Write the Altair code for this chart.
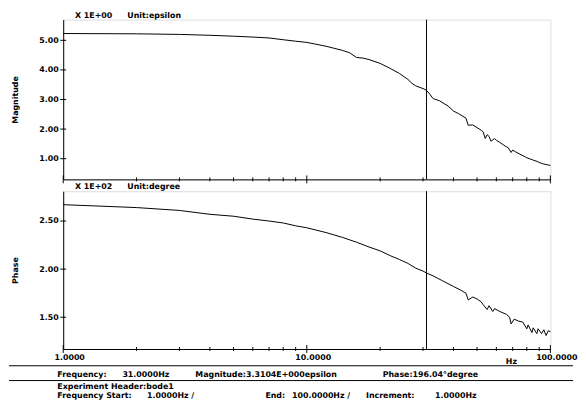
import altair as alt
import pandas as pd

# ---------------- data ----------------
mag_freq = [1, 2, 3, 4, 5, 6, 7, 8, 9, 10, 12, 14, 15, 16, 17, 18, 20, 22, 24, 26, 27, 28, 30, 31,
            32, 33, 35, 38, 40, 42, 45, 46, 48, 50, 52, 53, 54, 55, 56, 57, 59, 60, 62, 64, 66, 67,
            69, 70, 72, 75, 78, 80, 82, 85, 88, 90, 93, 96, 98, 100]
mag_vals = [5.23, 5.22, 5.20, 5.17, 5.14, 5.11, 5.08, 5.02, 4.97, 4.93, 4.80, 4.66, 4.58, 4.42, 4.40,
            4.35, 4.22, 4.05, 3.88, 3.68, 3.55, 3.46, 3.37, 3.31, 3.18, 3.03, 2.96, 2.78, 2.61, 2.52,
            2.37, 2.13, 2.14, 2.05, 1.96, 1.90, 1.68, 1.81, 1.75, 1.59, 1.68, 1.62, 1.55, 1.47, 1.40,
            1.38, 1.21, 1.29, 1.23, 1.15, 1.08, 1.03, 1.00, 0.95, 0.91, 0.87, 0.83, 0.80, 0.79, 0.77]

phase_freq = [1, 2, 3, 4, 5, 6, 7, 8, 9, 10, 12, 14, 16, 18, 20, 22, 24, 26, 28, 30, 31, 33, 36, 40,
              43, 45, 46, 48, 50, 52, 53, 55, 56, 58, 59, 62, 66, 68, 69, 71, 74, 77, 80, 81, 84, 85,
              88, 89, 92, 94, 96, 98, 100]
phase_vals = [2.67, 2.64, 2.61, 2.57, 2.55, 2.52, 2.50, 2.48, 2.45, 2.43, 2.38, 2.33, 2.28, 2.23, 2.19,
              2.14, 2.10, 2.06, 2.01, 1.98, 1.96, 1.93, 1.88, 1.82, 1.78, 1.75, 1.68, 1.71, 1.69, 1.66,
              1.63, 1.58, 1.62, 1.56, 1.59, 1.56, 1.53, 1.50, 1.43, 1.48, 1.46, 1.45, 1.38, 1.42, 1.34,
              1.39, 1.33, 1.38, 1.33, 1.37, 1.31, 1.36, 1.35]

cursor_freq = [31]
x_minor_ticks = [2, 3, 4, 5, 6, 7, 8, 9, 20, 30, 40, 50, 60, 70, 80, 90]
x_major_ticks = [1, 10, 100]
x_label_values = [1, 10, 100]
mag_ticks = [1, 2, 3, 4, 5]
phase_ticks = [1.5, 2.0, 2.5]

top_header = ["X 1E+00", "Unit:epsilon"]
bottom_header = ["X 1E+02", "Unit:degree"]
readout = ["Frequency:", "31.0000Hz", "Magnitude:3.3104E+000epsilon", "Phase:196.04°degree"]
exp_header = ["Experiment Header:bode1"]
freq_line = ["Frequency Start:", "1.0000Hz /", "End:", "100.0000Hz /", "Increment:", "1.0000Hz"]

# ---------------- layout / style ----------------
W = 494
H1 = 162
H2 = 160
FONT = "DejaVu Sans"
FS = 8
XSCALE = alt.Scale(type="log", domain=[1, 100], nice=False)


def txt(s, x, y, align="left"):
    return alt.Chart(pd.DataFrame({"t": [s]})).mark_text(
        align=align, baseline="middle", font=FONT, fontSize=FS, fontWeight="bold", color="black"
    ).encode(text="t:N", x=alt.value(x), y=alt.value(y))


def hline(x1, x2, y):
    return alt.Chart(pd.DataFrame({"a": [0]})).mark_rule(color="black", strokeWidth=1).encode(
        x=alt.value(x1), x2=alt.value(x2), y=alt.value(y))


def panel(freq, vals, ydom, yticks, H, ytitle, header, bottom):
    df = pd.DataFrame({"f": freq, "v": vals})
    yscale = alt.Scale(domain=ydom, nice=False, zero=False)
    if bottom:
        xaxis = alt.Axis(values=x_label_values, format=".4f", labelOffset=6, ticks=False,
                         labelPadding=5, labelFont=FONT, labelFontSize=FS, labelFontWeight="bold",
                         labelColor="black", domainColor="black", grid=False, labelFlush=False,
                         title="Hz", titleX=454, titleY=13, titleAlign="center",
                         titleBaseline="middle", titleFont=FONT, titleFontSize=FS,
                         titleFontWeight="bold", titleColor="black")
    else:
        xaxis = alt.Axis(labels=False, ticks=False, title=None, domainColor="black", grid=False)
    yaxis = alt.Axis(values=yticks, format=".2f", ticks=False, labelPadding=5, grid=False,
                     labelFont=FONT, labelFontSize=FS, labelFontWeight="bold", labelColor="black",
                     domainColor="black", title=ytitle, titleX=-48, titleY=H / 2, titleAngle=270,
                     titleAlign="center", titleBaseline="middle", titleFont=FONT,
                     titleFontSize=FS, titleFontWeight="bold", titleColor="black")
    line = alt.Chart(df).mark_line(color="black", strokeWidth=1).encode(
        x=alt.X("f:Q", scale=XSCALE, axis=xaxis),
        y=alt.Y("v:Q", scale=yscale, axis=yaxis),
    )
    cursor = alt.Chart(pd.DataFrame({"f": cursor_freq})).mark_rule(color="black", strokeWidth=1).encode(
        x=alt.X("f:Q", scale=XSCALE))
    minor = alt.Chart(pd.DataFrame({"f": x_minor_ticks})).mark_rule(color="black").encode(
        x=alt.X("f:Q", scale=XSCALE), y=alt.value(H - 2), y2=alt.value(H + 2))
    major = alt.Chart(pd.DataFrame({"f": x_major_ticks})).mark_rule(color="black").encode(
        x=alt.X("f:Q", scale=XSCALE), y=alt.value(H - 4), y2=alt.value(H + 4))
    yt = alt.Chart(pd.DataFrame({"v": yticks})).mark_rule(color="black").encode(
        y=alt.Y("v:Q", scale=yscale), x=alt.value(-3), x2=alt.value(3))
    layers = [line, cursor, minor, major, yt,
              txt(header[0], 12, -4), txt(header[1], 65, -4)]
    if bottom:
        layers += [
            hline(-55, 517, 177),
            txt(readout[0], -6, 186), txt(readout[1], 60, 186),
            txt(readout[2], 134, 186), txt(readout[3], 324, 186),
            hline(-55, 517, 192),
            txt(exp_header[0], -6, 199),
            txt(freq_line[0], -6, 208), txt(freq_line[1], 85, 208), txt(freq_line[2], 205, 208),
            txt(freq_line[3], 232, 208), txt(freq_line[4], 307, 208), txt(freq_line[5], 377, 208),
        ]
    return alt.layer(*layers).properties(width=W, height=H)


top = panel(mag_freq, mag_vals, [0.3, 5.7], mag_ticks, H1, "Magnitude", top_header, False)
bot = panel(phase_freq, phase_vals, [1.17, 2.81], phase_ticks, H2, "Phase", bottom_header, True)

chart = alt.vconcat(top, bot, spacing=12, bounds="flush").properties(
    padding={"left": 0, "top": 0, "right": 0, "bottom": 0}
).configure_view(stroke="black", strokeWidth=1).configure(background="white")

chart.save("out.html", embed_options={"renderer": "svg", "actions": False})
